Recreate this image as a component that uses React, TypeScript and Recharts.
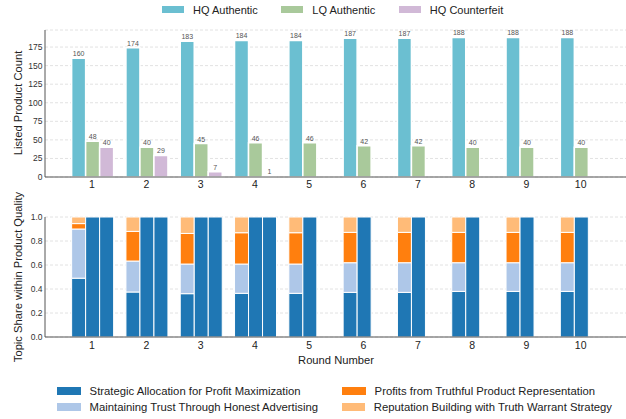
import React from 'react';
import { BarChart, Bar, XAxis, YAxis, CartesianGrid, LabelList } from 'recharts';

const FONT = '"Liberation Sans", Arial, Helvetica, sans-serif';

// ---------- data ----------
const rounds = ['1', '2', '3', '4', '5', '6', '7', '8', '9', '10'];
const hqAuthentic = [160, 174, 183, 184, 184, 187, 187, 188, 188, 188];
const lqAuthentic = [48, 40, 45, 46, 46, 42, 42, 40, 40, 40];
const hqCounterfeit = [40, 29, 7, 1, 0, 0, 0, 0, 0, 0];

// topic shares within HQ authentic products
const hqStrategic = [0.49, 0.375, 0.361, 0.364, 0.364, 0.372, 0.372, 0.38, 0.38, 0.38];
const hqTrust = [0.41, 0.258, 0.247, 0.244, 0.244, 0.247, 0.247, 0.239, 0.239, 0.239];
const hqProfits = [0.045, 0.247, 0.255, 0.261, 0.261, 0.253, 0.253, 0.253, 0.253, 0.253];
const hqReputation = [0.055, 0.12, 0.137, 0.131, 0.131, 0.128, 0.128, 0.128, 0.128, 0.128];
// topic shares within LQ authentic and HQ counterfeit products
const lqStrategic = [1, 1, 1, 1, 1, 1, 1, 1, 1, 1];
const cfStrategic = [1, 1, 1, 1, 0, 0, 0, 0, 0, 0];

const countTicks = [0, 25, 50, 75, 100, 125, 150, 175];
const shareTicks = [0, 0.2, 0.4, 0.6, 0.8, 1.0];

const countSeries = [
  { key: 'hq', name: 'HQ Authentic', color: '#6bbfd1' },
  { key: 'lq', name: 'LQ Authentic', color: '#a9c99b' },
  { key: 'cf', name: 'HQ Counterfeit', color: '#d1b9d7' },
];

const topicSeries = [
  { name: 'Strategic Allocation for Profit Maximization', color: '#1f77b4' },
  { name: 'Maintaining Trust Through Honest Advertising', color: '#aec7e8' },
  { name: 'Profits from Truthful Product Representation', color: '#ff7f0e' },
  { name: 'Reputation Building with Truth Warrant Strategy', color: '#ffbb78' },
];

const topData = rounds.map((r, i) => ({
  round: r,
  hq: hqAuthentic[i],
  lq: lqAuthentic[i],
  cf: hqCounterfeit[i],
}));

const bottomData = rounds.map((r, i) => ({
  round: r,
  hqS: hqStrategic[i],
  hqT: hqTrust[i],
  hqP: hqProfits[i],
  hqR: hqReputation[i],
  lqS: lqStrategic[i],
  cfS: cfStrategic[i],
}));

const axisLine = { stroke: '#555', strokeWidth: 1 };
const xPad = { left: 19.85, right: 18.15 };

export default function App() {
  return (
    <div
      style={{
        position: 'absolute',
        left: 0,
        top: 0,
        width: 626,
        height: 419,
        background: '#fff',
        fontFamily: FONT,
        overflow: 'hidden',
      }}
    >
      {/* top legend */}
      <div
        style={{
          position: 'absolute',
          left: 162,
          top: 0,
          height: 19,
          display: 'flex',
          alignItems: 'center',
          gap: 23.5,
          fontSize: 11,
          color: '#222',
          whiteSpace: 'nowrap',
        }}
      >
        {countSeries.map((s) => (
          <div key={s.key} style={{ display: 'flex', alignItems: 'center' }}>
            <div style={{ width: 22, height: 7, background: s.color, marginRight: 9 }} />
            <span>{s.name}</span>
          </div>
        ))}
      </div>

      {/* top chart */}
      <div style={{ position: 'absolute', left: 0, top: 0 }}>
        <BarChart
          width={626}
          height={200}
          data={topData}
          margin={{ top: 30, right: 0, bottom: 3, left: 0 }}
          barCategoryGap="12.5%"
          barGap={0}
          style={{ fontFamily: FONT }}
        >
          <CartesianGrid vertical={false} stroke="#e2e2e2" strokeDasharray="3 2" />
          <XAxis
            dataKey="round"
            padding={xPad}
            tickLine={false}
            tickSize={0}
            tickMargin={3.5}
            height={20}
            axisLine={axisLine}
            tick={{ fontSize: 10.5, fill: '#222' }}
            interval={0}
          />
          <YAxis
            width={45}
            domain={[0, 198]}
            ticks={countTicks}
            tickLine={false}
            tickSize={0}
            tickMargin={2.5}
            axisLine={axisLine}
            tick={{ fontSize: 8.5, fill: '#333' }}
            interval={0}
          />
          {countSeries.map((s) => (
            <Bar
              key={s.key}
              dataKey={s.key}
              name={s.name}
              fill={s.color}
              stroke="#ffffff"
              strokeWidth={1.5}
              isAnimationActive={false}
            >
              <LabelList
                dataKey={s.key}
                position="top"
                offset={2}
                fontSize={7}
                fill="#555"
                formatter={(v: any) => (Number(v) > 0 ? v : '')}
              />
            </Bar>
          ))}
        </BarChart>
      </div>

      {/* bottom chart */}
      <div style={{ position: 'absolute', left: 0, top: 200 }}>
        <BarChart
          width={626}
          height={170}
          data={bottomData}
          margin={{ top: 17, right: 0, bottom: 3, left: 0 }}
          barCategoryGap="12.5%"
          barGap={0}
          style={{ fontFamily: FONT }}
        >
          <CartesianGrid vertical={false} stroke="#e2e2e2" strokeDasharray="3 2" />
          <XAxis
            dataKey="round"
            padding={xPad}
            tickLine={false}
            tickSize={0}
            tickMargin={5}
            height={30}
            axisLine={axisLine}
            tick={{ fontSize: 10.5, fill: '#222' }}
            interval={0}
          />
          <YAxis
            width={45}
            domain={[0, 1]}
            ticks={shareTicks}
            tickFormatter={(v: number) => v.toFixed(1)}
            tickLine={false}
            tickSize={0}
            tickMargin={2.5}
            axisLine={axisLine}
            tick={{ fontSize: 8.5, fill: '#333' }}
            interval={0}
          />
          <Bar dataKey="hqS" stackId="hq" fill={topicSeries[0].color} stroke="#fff" strokeWidth={1} isAnimationActive={false} />
          <Bar dataKey="hqT" stackId="hq" fill={topicSeries[1].color} stroke="#fff" strokeWidth={1} isAnimationActive={false} />
          <Bar dataKey="hqP" stackId="hq" fill={topicSeries[2].color} stroke="#fff" strokeWidth={1} isAnimationActive={false} />
          <Bar dataKey="hqR" stackId="hq" fill={topicSeries[3].color} stroke="#fff" strokeWidth={1} isAnimationActive={false} />
          <Bar dataKey="lqS" stackId="lq" fill={topicSeries[0].color} stroke="#fff" strokeWidth={1} isAnimationActive={false} />
          <Bar dataKey="cfS" stackId="cf" fill={topicSeries[0].color} stroke="#fff" strokeWidth={1} isAnimationActive={false} />
        </BarChart>
      </div>

      {/* axis titles */}
      <svg
        width={626}
        height={419}
        style={{ position: 'absolute', left: 0, top: 0, pointerEvents: 'none' }}
      >
        <text
          x={18}
          y={103}
          transform="rotate(-90, 18, 103)"
          textAnchor="middle"
          dominantBaseline="central"
          fontSize={11.2}
          fill="#222"
          fontFamily={FONT}
        >
          Listed Product Count
        </text>
        <text
          x={18}
          y={277}
          transform="rotate(-90, 18, 277)"
          textAnchor="middle"
          dominantBaseline="central"
          fontSize={11.2}
          fill="#222"
          fontFamily={FONT}
        >
          Topic Share within Product Quality
        </text>
        <text
          x={336}
          y={359.5}
          textAnchor="middle"
          dominantBaseline="central"
          fontSize={11.2}
          fill="#222"
          fontFamily={FONT}
        >
          Round Number
        </text>
      </svg>

      {/* bottom legend */}
      <div
        style={{
          position: 'absolute',
          left: 57,
          top: 383,
          display: 'grid',
          gridTemplateColumns: '285px 270px',
          rowGap: 0,
          fontSize: 11.3,
          color: '#222',
          whiteSpace: 'nowrap',
        }}
      >
        {[topicSeries[0], topicSeries[2], topicSeries[1], topicSeries[3]].map((s) => (
          <div key={s.name} style={{ display: 'flex', alignItems: 'center', height: 16 }}>
            <div style={{ width: 24, height: 8, background: s.color, marginRight: 8.6 }} />
            <span>{s.name}</span>
          </div>
        ))}
      </div>
    </div>
  );
}
